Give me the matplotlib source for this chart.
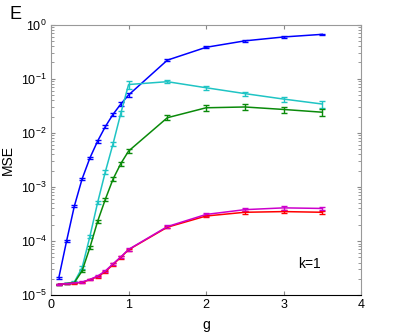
import numpy as np
import matplotlib.pyplot as plt
from matplotlib.ticker import LogLocator, NullFormatter

plt.rcParams['font.family'] = ['Liberation Sans', 'DejaVu Sans']

g = [0.1, 0.2, 0.3, 0.4, 0.5, 0.6, 0.7, 0.8, 0.9, 1.0, 1.5, 2.0, 2.5, 3.0, 3.5]

mse_blue = [2.1e-5, 1.0e-4, 4.4e-4, 1.4e-3, 3.4e-3, 7.0e-3, 1.3e-2, 2.2e-2, 3.4e-2, 5.0e-2,
            0.22, 0.38, 0.50, 0.59, 0.66]
mse_cyan = [1.6e-5, 1.65e-5, 1.75e-5, 3.2e-5, 1.2e-4, 5.1e-4, 1.9e-3, 6.3e-3, 2.3e-2, 7.8e-2,
            8.8e-2, 6.8e-2, 5.3e-2, 4.2e-2, 3.4e-2]
mse_green = [1.6e-5, 1.63e-5, 1.7e-5, 2.8e-5, 7.5e-5, 2.3e-4, 5.9e-4, 1.4e-3, 2.7e-3, 4.6e-3,
             1.9e-2, 2.9e-2, 3.0e-2, 2.7e-2, 2.4e-2]
mse_red = [1.6e-5, 1.62e-5, 1.67e-5, 1.72e-5, 1.93e-5, 2.2e-5, 2.7e-5, 3.7e-5, 5.0e-5, 6.9e-5,
           1.8e-4, 2.9e-4, 3.4e-4, 3.5e-4, 3.4e-4]
mse_magenta = [1.6e-5, 1.62e-5, 1.68e-5, 1.74e-5, 1.95e-5, 2.25e-5, 2.8e-5, 3.8e-5, 5.1e-5, 7.0e-5,
               1.85e-4, 3.1e-4, 3.8e-4, 4.1e-4, 4.0e-4]

# relative error bar half-heights
err_blue = [0.04, 0.04, 0.05, 0.05, 0.05, 0.06, 0.06, 0.07, 0.07, 0.07, 0.05, 0.04, 0.03, 0.03, 0.03]
err_cyan = [0.02, 0.02, 0.03, 0.06, 0.06, 0.07, 0.08, 0.08, 0.1, 0.18, 0.07, 0.08, 0.09, 0.11, 0.14]
err_green = [0.02, 0.02, 0.03, 0.06, 0.06, 0.07, 0.07, 0.08, 0.08, 0.09, 0.1, 0.12, 0.13, 0.13, 0.15]
err_red = [0.02, 0.02, 0.02, 0.03, 0.03, 0.04, 0.04, 0.05, 0.05, 0.05, 0.05, 0.06, 0.07, 0.07, 0.07]
err_magenta = [0.02, 0.02, 0.02, 0.03, 0.03, 0.04, 0.04, 0.05, 0.05, 0.05, 0.05, 0.06, 0.07, 0.07, 0.07]

series = [
    (mse_blue, err_blue, '#0000ff'),
    (mse_cyan, err_cyan, '#1fc4c4'),
    (mse_green, err_green, '#0a8a0a'),
    (mse_red, err_red, '#ff0000'),
    (mse_magenta, err_magenta, '#cc00cc'),
]

fig = plt.figure(figsize=(3.99, 3.32), dpi=100)
ax = fig.add_axes([0.128, 0.111, 0.777, 0.815])

for y, e, c in series:
    y = np.array(y)
    ax.errorbar(g, y, yerr=y * np.array(e), color=c, lw=1.1, capsize=2.2,
                elinewidth=1.0, capthick=1.0)

ax.set_yscale('log')
ax.set_xlim(0, 4)
ax.set_ylim(1e-5, 1)
ax.set_xticks([0, 1, 2, 3, 4])
ax.yaxis.set_major_locator(LogLocator(base=10, numticks=10))
ax.yaxis.set_minor_locator(LogLocator(base=10, subs=np.arange(2, 10), numticks=20))
ax.yaxis.set_minor_formatter(NullFormatter())
ax.tick_params(direction='in', which='both', top=True, right=True, labelsize=9,
               colors='#888888', labelcolor='black', pad=3)
ax.tick_params(which='major', length=3)
ax.tick_params(which='minor', length=2)
for s in ax.spines.values():
    s.set_color('#999999')
ax.spines['bottom'].set_color('black')

ax.set_xlabel('g', fontsize=10)
ax.set_ylabel('MSE', fontsize=10)
ax.yaxis.set_label_coords(-0.116, 0.5)
ax.xaxis.set_label_coords(0.5, -0.085)
ax.text(3.33, 3.7e-5, 'k=1', fontsize=10, ha='center', va='center')
fig.text(0.025, 0.955, 'E', fontsize=13, ha='left', va='center')

fig.savefig('out.png', dpi=100)
